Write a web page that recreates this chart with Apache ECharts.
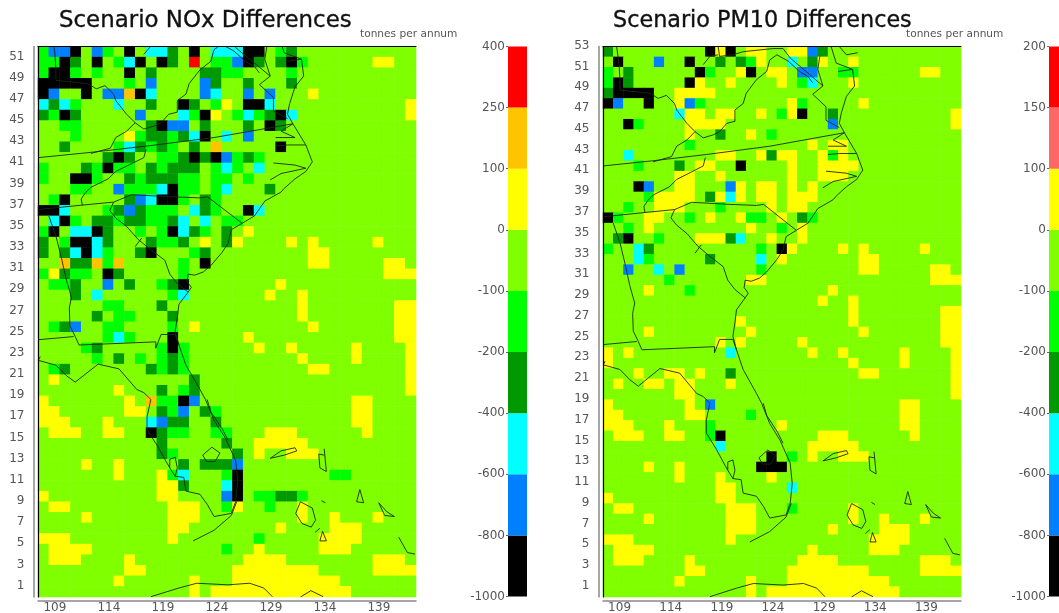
<!DOCTYPE html>
<html><head><meta charset="utf-8">
<style>html,body{margin:0;padding:0;background:#fff}#c{width:1059px;height:613px}</style>
<script src="https://cdn.jsdelivr.net/npm/echarts@6/dist/echarts.min.js"></script>
</head><body><div id="c"></div>
<script>
// ---------- labels ----------
const noxTitle = 'Scenario NOx Differences';
const pm10Title = 'Scenario PM10 Differences';
const unitLabel = 'tonnes per annum';
const colLabels = Array.from({length:35},(_,i)=>String(109+i));
const noxRowLabels = Array.from({length:52},(_,i)=>String(1+i));
const pm10RowLabels = Array.from({length:53},(_,i)=>String(1+i));

// ---------- colour classes (bottom to top of each colour bar) ----------
const noxBreaks = [-1000,-800,-600,-400,-200,-100,0,100,250,400];
const pm10Breaks = [-1000,-800,-600,-400,-200,-100,0,100,150,200];
const noxColors = ['#000000','#007FFF','#00FFFF','#009900','#00FF00','#7FFF00','#FFFF00','#FFC400','#FF0000'];
const pm10Colors = ['#000000','#007FFF','#00FFFF','#009900','#00FF00','#7FFF00','#FFFF00','#FF6666','#FF0000'];
const classCodes = ['k','b','c','d','g','.','y','o','r'];

// ---------- cells, top row first; anything unlisted is the -100..0 class ----------
// token: class letter then column or column range (k = black, b = blue, c = cyan, d = dark green, g = green, y = yellow, o = orange/salmon, r = red)
const noxRows = [
'g0 b1-2 k3 b5 g6 k8 c10-11 d12 k14 c16-18 k19-20 g22 d23',
'g0-1 k2 d3 k5 g7 c8 k9 k11 d12 r14 g16-17 b18 k19 d20 d22 k23 g24 y31-32',
'g0 k1-2 g3 g5 k8 d10 d15-16 g17-18 g23',
'k0-4 g8 b10 b15 d16 d19 d23',
'k0 b1 k4 b6-7 o8 k9 c10 b15 c16 b19 b21 y25',
'c0 d1 c2 g3 c7 d10 k13 d14 g16 y17 k19-20 c21 y34',
'd0 g1 k2 d3 b9 c13 g14 k15 y16 g18 c19 g20 d21 k22 c23 y34',
'g2-3 d10 k11 b12-13 d15 d19 k21 d22',
'g3 y8 g9 d10-11 g12 d13 c14 k15 c17 b19',
'd2 g7 c8 d9 g10 d11 g12 d14 o16 k22',
'd6 k7 d8 g11-12 d13 k14 d15 k16 b17 g18 d19 g20',
'g0 d4 g5 k6 g7-8 d10 g11 d12-14 g16 c17 g18 c20',
'g0 k3-4 g5 d8 g9 d10-12 g13-14 g16-17 g19',
'g3-4 b7 g8-10 c11 k12 g13-14 g16 c17 d21',
'g1 k2 d8 b9 c10 k11-12 g13 d15 g16',
'k0-1 c2 g6 d7 b8 d9 g10-12 c14 d15 g16 k19 c20',
'c1 k2 g3 d5-6 g7 d8-9 g10-11 d12 c13 c15 g17-18',
'g0 k1 c3-4 k5 d6 g9 g11 k12 c13 d14 g15 d17 y19',
'd0 g2 k3-4 c5 d6 d10 g11-12 d13 y15 d17 y18 y23 y25 y31',
'd0 d2 c3 k4 c5 g6 d9 k10 g14 d15 y25-26',
'o2 d3-4 o5 g6 o7 g13 k15 y25-26 y32-33',
'g0 y1 d2 g3-4 k6 d7 g13 y32-34',
'g1-2 d3 b6 d8 g11 d12 k13 y22',
'd3 c5 g12 c13 y21 y24',
'g6-7 d11 y24 y33-34',
'd5 g7-8 d12 y24 y33-34',
'g1 d2 b3 g6-7 g12 y14 y25 y33-34',
'g6 c7 g8 k12 y19 y33-34',
'g4 d5 g11 k12 g13 y20 y23 y29 y34',
'g5 d7 g9 g11 d12 g13 y24 y29 y34',
'g1 d2 d10 g11 d12 g13 y25-26 y34',
'y1 d14 y34',
'y7 d11 g13 d14 y34',
'y0 y8 o10 g11-12 k13 b14 y29-30',
'y0-1 y8-9 d11 g12 b13 d15 g16 y29-30',
'y0-2 y6 c10 b11 d12-13 d16 y29-30',
'y1-3 y6-7 k10 d11 g12-13 g16-17 y21-23 y30',
'd11 d17 y20-24',
'd11 g12 d18 y20 y23-25',
'y4 y7 d13 d15-17 b18',
'y7 y11 g12 c13 g17 k18 g27-28',
'y11-12 d13 c17 k18',
'y0 y11-12 b17 k18 g20-21 d22-23 g24',
'y1-2 y12-14 g17 y18 g21 y24',
'y4 y12-14 y24 y27 y31',
'y12-13 y22 y27-29',
'y0-2 y12 g20 y26-29',
'y1-4 g17 y20 y26-28',
'y1-3 y8 y19-22 y31-33',
'y8-9 y18-25 y31-34',
'y7 y14 y18-27',
'y14 y16-28'
];
const pm10Rows = [
'd0 k10 y11 k12 y14-15 y18-19 b20 d21',
'k1 b5 k8 d11 d13 g14 y15 c18 d20 y21 y24',
'g0 d2 k9 g10 y13 k14 y16-17 b19-20 g23-24 y31-32',
'g0 k1 d2 k8 y9 y12 y17 g19 c20 y24',
'd0 k1-4 y7-10',
'k0 b1 k4 y7 b8 g9 y18 g19 y25',
'c7 y8-9 y11-12 y15 g17 y18 k19 d22 y34',
'k2 g3 y8-11 b22 y34',
'y8 d11 y14 g16',
'g8 y20 y22-23',
'c2 y11-12 y15 d16 y17-18 y21 g22 y23',
'g3 d7 y9-10 k13 y18 y21-24',
'y7-8 y11 y18 y21-23',
'k3 b4 y7-8 b12 y13 y15-16 y18 y20',
'g4 y5-8 d10 y11 c12 y13 y15-16 y18-20',
'g2 y5-7 g11 y16 y18-19',
'k0 g1 y4-5 g8 y10 y13 g14-15 y17 d19 g20',
'g2 y4 y14 g17 y19',
'd1 k2 g5 y9-11 d12 c13 y16 y19',
'g0 c3 d4 g15 k17 y18 y23 y25 y31',
'c3 g4 d10 c15 y17 y25-26',
'b2 c5 b7 g15 y25-26 y32-33',
'g6 y14-15 y32-34',
'y4 g8 y22',
'y21 y24',
'y24 y33-34',
'y13 y24 y33-34',
'y4 y14 y25 y33-34',
'y11 y13 y19 y33-34',
'y0 y2 c12 y20 y23 y29 y34',
'y0 y24 y29 y34',
'y3 y6-7 y9 d12 y25-26 y34',
'y1 y4-5 y7-8 y12 y34',
'y7-8 y34',
'y0 y8 b10 y29-30',
'y0-1 y8-9 g14 y29-30',
'y0-2 y6 g10 y17 y29-30',
'y1-3 y6-7 g10 k11 y21-23 y30',
'c11 y20-24',
'k16 g18 y20 y23-25',
'y4 y7 k15-17',
'y7 y11 y16',
'y11-12 c18',
'y0 y11-12',
'y1-2 y12-14 g18 y24',
'y4 y12-14 y24 y27 y31',
'y12-14 y22 y27-29',
'y0-2 y12 y26-29',
'y1-4 y20 y26-28',
'y1-3 y8 y19-22 y31-33',
'y8-9 y18-25 y31-34',
'y7 y14 y18-27',
'y14 y16-28'
];

// ---------- map outlines in (grid column, grid row) units ----------
const wvWest = [[1.33,53],[1.56,51.4],[1.66,49.8],[1.66,48.8],[4.6,48.5],[5.4,48],[6.2,48.3],[7,47.5],[7.2,46.9],[8.2,45.6],[9,44.8],[9.8,44.2],[10.8,44.5],[11.4,44.8],[12.1,45.6],[12.9,45.8],[12.9,46.9],[13.7,47.5],[14,48.5],[15,49.8],[16,50.6],[16.3,51.7],[17,52.2],[18.1,51.6],[19.2,50.6],[20.05,50.1],[20.5,49.5]];
const kyVa = [[9,44.8],[8.2,44],[7.2,43.4],[6.7,42.4],[4.9,41.9]];
const vaSouth = [[0,41.5],[4.9,42],[10.1,42.6],[16.3,43.4],[23.6,44.7]];
const ncTn = [[10,42.3],[9.8,41.5],[8.2,40.7],[7.2,40.2],[6.5,39.5],[4.9,38.7],[4.4,38.2],[4,37.6],[4.1,37]];
const tnSouth = [[0,36.6],[3.9,37],[7,37.3]];
const ncSc = [[7,37.3],[8.66,38],[12.4,37.8],[15,37.7],[15.7,37.8],[18.9,35.3]];
const atlanticNorth = [[18.9,35.3],[20.05,36],[21,37.4],[22.5,38.25],[22.8,38.6],[23.8,39.5],[24.8,40.2],[25.4,41.1],[24.8,42.7],[23.6,44.7],[23.1,45.6],[23.3,46.6],[23.8,48.2],[24.6,49.2],[24.4,50.8],[22.8,51.4],[22.3,53]];
const atlanticSouth = [[18.9,35.3],[17.9,34.7],[17.6,33.4],[17,32.5],[16,31.3],[15.3,30.7],[14.5,30.4],[13.9,30.5],[13.8,29.8],[14.2,29.25],[13.9,28.8],[13.05,27.65],[12.9,26.4],[12.7,25.1],[13.05,23.8],[13.7,21.9],[15,19.6],[15.5,18.66],[16.3,16.7],[17.3,15.1],[18.3,12.9],[18.5,10.95],[18.3,9],[17.9,7.9],[16.3,7.6],[15.7,8.7],[15,9.7],[13.7,10],[13.5,11.3],[12.7,11.4],[12.2,12.2],[11.75,13],[11.1,14.2],[10.1,15.8],[10.1,17.05],[10.45,18.66],[9.8,19.3],[9.15,19.6],[7.5,21.55],[5.57,22],[3.45,20.3],[2.64,20.9],[1.66,21.9],[0.03,22.35],[0.2,22.7]];
const okeechobee = [[15.25,13.4],[16.1,14.15],[16.85,13.6],[16.4,12.8],[15.6,12.8],[15.25,13.4]];
const tampaBay = [[12.2,12.2],[12.2,13],[12.7,13.2],[12.9,12.2],[12.7,11.4]];
const indianRiver = [[15.66,18.66],[16,17.5],[17.1,15.8],[17.6,14.8]];
const floridaKeys = [[14.36,5.3],[16.3,6.3],[17.9,7.7],[18.4,9]];
const alGa = [[1,36],[1.66,34.1],[2.15,32.1],[2.64,29.9],[3.1,28.3],[2.9,27.3],[2.96,25.6],[3.45,24.6],[3.8,23.8]];
const flGa = [[3.8,23.8],[10.9,24.1],[10.9,23.5],[11.4,24.8],[12.7,24.8],[13.05,23.8]];
const alFl = [[0,24.3],[3.3,24.6]];
const scGa = [[7,37.3],[6.64,36.5],[7.2,35.8],[8.2,35],[9.3,33.75],[10.45,32.8],[11.75,31.8],[12.2,30.5],[12.9,29.6],[13.9,28.8]];
const scGaSpur = [[9,33.1],[9.6,33.9]];
const chesapeakeWest = [[21.2,52.05],[21,50.8],[21.5,49.2],[20.5,48.4],[21.8,47.2],[21.8,45.9],[23.1,45.2]];
const njCoast = [[23.1,53],[23.8,52.2],[24.9,52.4]];
const mdDe = [[23,50.6],[24.4,50.8]];
const paMd = [[11.26,53],[11.4,52.05],[12.7,52.2],[13.7,52.5],[16.6,52.8],[17.6,52.8],[18.3,51.9],[20.2,50.3],[21.5,49.2]];
const wvPan = [[9.8,51.25],[10.45,52.05],[11.26,52.2]];
const ncSound1 = [[21.8,41],[23.8,40.8],[24.8,40.5],[22.5,40],[21.5,39.4]];
const ncSound2 = [[22,43.4],[23.8,43.4],[22.5,44],[23.6,44.7]];
const ncSound3 = [[22,42.6],[23.1,42.7],[24.8,42.7]];
const cubaWest = [[10.45,0.03],[13.05,0.85],[14.7,1.3],[17.6,1.15],[19.6,1.3],[20.9,0.85],[21.7,0.03]];
const cubaEast = [[24.3,0],[25.27,0.6],[26.4,0.03]];
const grandBahama = [[21.5,13.1],[22.5,13.8],[23.8,14.1],[23.96,13.8],[22.8,13.4],[21.5,13.1]];
const abaco = [[26.5,14],[26.7,11.85],[26.1,12.2],[26,13.5],[26.5,13.4]];
const eleuthera = [[29.5,9],[29.8,10.15],[30.15,8.9],[29.5,9]];
const catIsland = [[31.55,8.9],[32.3,8.06],[33,7.6],[32.1,7.7],[31.55,8.9]];
const longIsland = [[33.4,5.65],[34.2,4.2],[34.9,4.05]];
const cay1 = [[26.25,9.1],[26.6,8.9]];
const cay2 = [[25.66,6.1],[26.1,6.5]];
const exuma = [[26.1,5.3],[26.35,6.2],[26.7,5.3],[26.1,5.3]];
const andros = [[24.3,9],[23.86,7.9],[24.45,6.94],[25.3,6.6],[25.7,7.26],[25.4,8.4],[24.3,9]];
const mapLines = [wvWest,kyVa,vaSouth,ncTn,tnSouth,ncSc,atlanticNorth,atlanticSouth,okeechobee,tampaBay,indianRiver,floridaKeys,alGa,flGa,alFl,scGa,scGaSpur,chesapeakeWest,njCoast,mdDe,paMd,wvPan,ncSound1,ncSound2,ncSound3,cubaWest,cubaEast,grandBahama,abaco,eleuthera,catIsland,longIsland,cay1,cay2,exuma,andros];

// ---------- helpers ----------
function cellsFrom(rows, breaks){
  const mid = i => (breaks[i]+breaks[i+1])/2;
  const nRows = rows.length, out = [];
  rows.forEach((line,t)=>{
    const r = new Array(35).fill(mid(5));
    line.split(' ').filter(Boolean).forEach(tok=>{
      const cls = classCodes.indexOf(tok[0]);
      const p = tok.slice(1).split('-').map(Number);
      for(let c=p[0];c<=(p.length>1?p[1]:p[0]);c++) r[c]=mid(cls);
    });
    r.forEach((v,c)=>out.push([c,nRows-1-t,v]));
  });
  return out;
}
const fontName = '"DejaVu Sans"';
const labelColor = '#555';
const axisColor = '#8a8a8a';
const gridBase = {outerBoundsMode:'none',containLabel:false};

function panel(idx, box, rowLabels, rows, breaks, colors){
  const g = idx*2;
  const rect = {...gridBase,left:box.l,top:box.t,width:box.w,height:box.h};
  return {
    grids:[rect,{...rect}],
    xAxes:[
      {gridIndex:g,type:'category',data:colLabels,position:'bottom',offset:4,boundaryGap:true,
       axisLine:{lineStyle:{color:axisColor,width:1.5}},
       axisTick:{interval:4,length:5,lineStyle:{color:'#666'}},
       axisLabel:{interval:4,align:'left',margin:1,color:labelColor,fontFamily:fontName,fontSize:12},splitLine:{show:false}},
      {gridIndex:g+1,type:'value',min:0,max:35,position:'top',z:5,
       axisLine:{show:true,onZero:false,lineStyle:{color:'#000',width:1.2}},axisTick:{show:false},axisLabel:{show:false},splitLine:{show:false}}
    ],
    yAxes:[
      {gridIndex:g,type:'category',data:rowLabels,position:'left',offset:box.yo,boundaryGap:true,
       axisLine:{lineStyle:{color:axisColor,width:1.5}},
       axisTick:{interval:1,length:4,lineStyle:{color:'#666'}},
       axisLabel:{interval:1,margin:9,color:labelColor,fontFamily:fontName,fontSize:12,verticalAlign:'bottom',lineHeight:12},splitLine:{show:false}},
      {gridIndex:g+1,type:'value',min:0,max:rowLabels.length,position:'left',z:5,
       axisLine:{show:true,onZero:false,lineStyle:{color:'#000',width:1.2}},axisTick:{show:false},axisLabel:{show:false},splitLine:{show:false}}
    ],
    series:[
      {type:'heatmap',xAxisIndex:g,yAxisIndex:g,data:cellsFrom(rows,breaks),silent:true,z:2,emphasis:{disabled:true},progressive:0},
      {type:'lines',coordinateSystem:'cartesian2d',xAxisIndex:g+1,yAxisIndex:g+1,polyline:true,silent:true,z:4,
       lineStyle:{color:'#1a2a1a',width:0.9,opacity:1},effect:{show:false},
       data:mapLines.map(c=>({coords:c}))}
    ]
  };
}
function colorBar(gridIdx, box, breaks, colors){
  const labels = breaks.map(String);
  return {
    grid:{...gridBase,left:box.l,top:box.t,width:box.w,height:box.h},
    x:{gridIndex:gridIdx,type:'category',data:['bar'],show:false,boundaryGap:true},
    y:{gridIndex:gridIdx,type:'value',min:0,max:colors.length,interval:1,position:'left',
       axisLine:{show:false},axisTick:{show:true,length:2,lineStyle:{color:'#666'}},splitLine:{show:false},
       axisLabel:{margin:3,color:labelColor,fontFamily:fontName,fontSize:12,showMinLabel:true,showMaxLabel:true,formatter:v=>labels[v]}},
    series:colors.map(col=>({type:'bar',stack:'bar'+gridIdx,xAxisIndex:gridIdx,yAxisIndex:gridIdx,data:[1],barWidth:'100%',silent:true,itemStyle:{color:col}}))
  };
}

const pL = panel(0,{l:38,t:46.5,w:378,h:550.5,yo:4.5},noxRowLabels,noxRows,noxBreaks,noxColors);
const pR = panel(1,{l:603,t:46.5,w:358,h:550.5,yo:4.5},pm10RowLabels,pm10Rows,pm10Breaks,pm10Colors);
const cL = colorBar(4,{l:508,t:46.5,w:19,h:550},noxBreaks,noxColors);
const cR = colorBar(5,{l:1049,t:46.5,w:19,h:550},pm10Breaks,pm10Colors);

const titleStyle = {color:'#111',fontFamily:fontName,fontWeight:'normal',textBorderColor:'#111',textBorderWidth:0.35};
const unitStyle = {color:'#555',fontFamily:fontName,fontSize:10.6,fontWeight:'normal'};
const chart = echarts.init(document.getElementById('c'),null,{renderer:'canvas'});
chart.setOption({
  animation:false,backgroundColor:'#fff',
  title:[
    {text:noxTitle,left:59,top:10,textStyle:{...titleStyle,fontSize:22.9},padding:0},
    {text:pm10Title,left:613,top:10,textStyle:{...titleStyle,fontSize:22.3},padding:0},
    {text:unitLabel,left:360,top:29,textStyle:unitStyle,padding:0},
    {text:unitLabel,left:906,top:29,textStyle:unitStyle,padding:0}
  ],
  grid:[...pL.grids,...pR.grids,cL.grid,cR.grid],
  xAxis:[...pL.xAxes,...pR.xAxes,cL.x,cR.x],
  yAxis:[...pL.yAxes,...pR.yAxes,cL.y,cR.y],
  visualMap:[
    {type:'piecewise',show:false,seriesIndex:0,dimension:2,pieces:noxColors.map((c,i)=>({min:noxBreaks[i],max:noxBreaks[i+1],color:c}))},
    {type:'piecewise',show:false,seriesIndex:2,dimension:2,pieces:pm10Colors.map((c,i)=>({min:pm10Breaks[i],max:pm10Breaks[i+1],color:c}))}
  ],
  series:[...pL.series,...pR.series,...cL.series,...cR.series]
});
</script></body></html>
